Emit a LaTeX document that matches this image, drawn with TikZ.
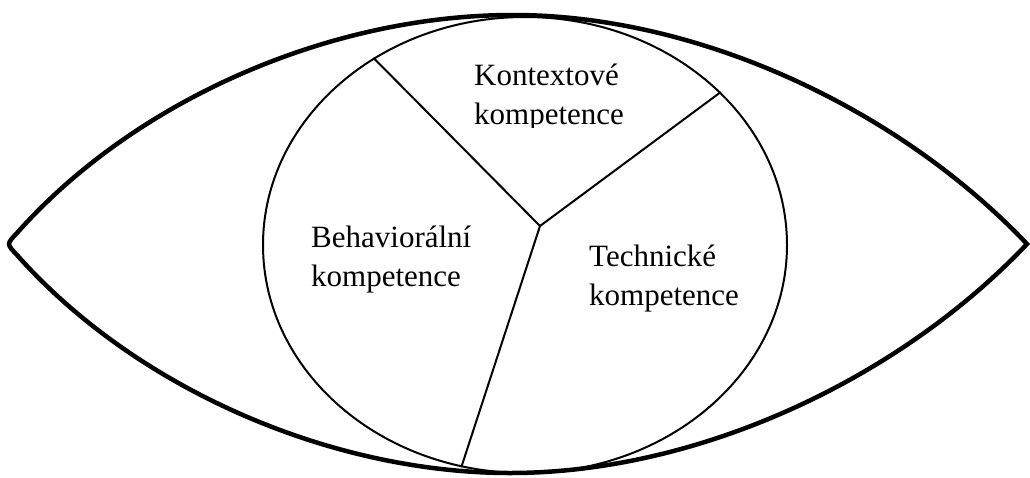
\documentclass[tikz,border=0pt]{standalone}
\usepackage{fontspec}
\setmainfont{Liberation Serif}
\newfontfamily\labelfont{Liberation Serif}
\usetikzlibrary{shapes.geometric}
\newcommand\twolines[2]{\vtop{\hbox{#1}\hbox{#2}}}
\tikzset{
  eye/.style={line width=4.5pt, line join=miter},
  inner/.style={line width=2pt},
  part/.style={anchor=base west, inner sep=0pt,
    font=\labelfont\fontsize{31}{39}\selectfont}
}
\begin{document}
\begin{tikzpicture}[x=1pt, y=-1pt]
  \useasboundingbox (0,0) rectangle (1030,477);

  % outer eye outline, rounded at the left tip and pointed at the right
  \coordinate (eyetop) at (513,15);
  \coordinate (eyeright) at (1027,244);
  \coordinate (eyebottom) at (510,473);
  \coordinate (eyeleftup) at (17,233);
  \coordinate (eyeleftdown) at (17,255);
  \draw[eye] (eyeleftup) .. controls (135,100) and (330,15) .. (eyetop)
    .. controls (700,15) and (900,110) .. (eyeright)
    .. controls (900,378) and (700,473) .. (eyebottom)
    .. controls (330,473) and (135,388) .. (eyeleftdown)
    .. controls (6.5,244) .. (eyeleftup) -- cycle;

  % the inner oval split into three parts
  \node[draw, inner, ellipse, minimum width=524pt, minimum height=456pt,
        inner sep=0pt] (oval) at (525,245) {};
  \coordinate (hub) at (540,226);
  \draw[inner] (hub) -- (oval.129);
  \draw[inner] (hub) -- (oval.38.3);
  \draw[inner] (hub) -- (oval.254);

  % labels
  \begin{scope}
    \clip (460,50) rectangle (640,127.5);
    \node[part] (kontext) at (474,85) {\twolines{Kontextové}{kompetence}};
  \end{scope}
  \node[part] (behav) at (311,247) {\twolines{Behaviorální}{kompetence}};
  \node[part] (tech) at (589,266) {\twolines{Technické}{kompetence}};
\end{tikzpicture}
\end{document}
